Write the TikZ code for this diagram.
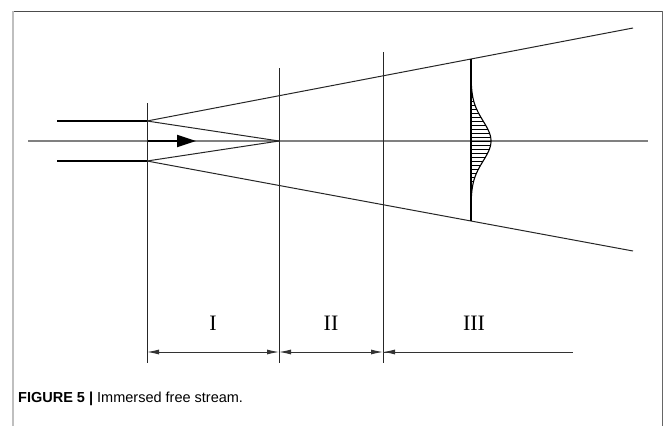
\documentclass[tikz,border=0pt]{standalone}
\usepackage{fontspec}
\setmainfont{Liberation Serif}
\newfontfamily\capfont{Liberation Sans}
\usetikzlibrary{arrows.meta}
\begin{document}
\begin{tikzpicture}[x=1pt,y=-1pt,
  thinline/.style={line width=1pt,draw=black!85},
  axisline/.style={line width=1.1pt,draw=black!50},
  inlet/.style={line width=1.8pt,draw=black},
  dimline/.style={line width=0.9pt,draw=black!80},
  dimtip/.style={-{Latex[length=12pt,width=5pt]}},
  roman/.style={font=\fontsize{22}{22}\selectfont,anchor=center}]
\useasboundingbox (0,0) rectangle (665,426);
% frame
\draw[line width=1pt,black!70] (12,11) -- (663,11);
\draw[line width=2pt,black!25] (13,11) -- (13,426);
\draw[line width=1pt,black!60] (662,11) -- (662,426);
% key points
\coordinate (A) at (147,121);
\coordinate (B) at (147,161);
\coordinate (C) at (279,141);
\coordinate (Uend) at (633,28);
\coordinate (Lend) at (633,251);
% axis
\draw[axisline] (28,141) -- (648,141);
% inlet
\draw[inlet] (57,121) -- (A);
\draw[inlet] (57,161) -- (B);
\draw[line width=1.8pt,-{Triangle[length=19pt,width=12pt]}] (147,141) -- (196,141);
% cone lines
\draw[thinline] (A) -- (Uend);
\draw[thinline] (B) -- (Lend);
\draw[thinline] (A) -- (C);
\draw[thinline] (B) -- (C);
% section verticals
\draw[thinline] (147,103) -- (147,363);
\draw[thinline] (279,68) -- (279,363);
\draw[thinline] (383,52) -- (383,363);
% profile
\draw[line width=1.6pt] (471,59) -- (471,221);
\foreach \yy in {89,93,...,193}
  \draw[line width=0.5pt] (471,\yy) -- ({471+20*exp(-0.5*((\yy-141)/20)*((\yy-141)/20))},\yy);
\draw[line width=1.1pt] plot[domain=80:202,samples=80,smooth] ({471+20*exp(-0.5*((\x-141)/20)*((\x-141)/20))},\x);
% dimension line
\draw[dimline] (383,352) -- (573,352);
\draw[dimline,dimtip] (213,352) -- (147,352);
\draw[dimline,dimtip] (213,352) -- (279,352);
\draw[dimline,dimtip] (331,352) -- (279,352);
\draw[dimline,dimtip] (331,352) -- (383,352);
\draw[dimline,dimtip] (420,352) -- (383,352);
% labels
\node[roman] (l1) at (213,323) {I};
\node[roman] (l2) at (331,323) {II};
\node[roman] (l3) at (474,323) {III};
% caption
\node[anchor=base west,inner sep=0pt,font=\capfont\fontsize{14.5}{14.5}\selectfont] (cap) at (18,402) {\textbf{FIGURE 5 |} Immersed free stream.};
\end{tikzpicture}
\end{document}
